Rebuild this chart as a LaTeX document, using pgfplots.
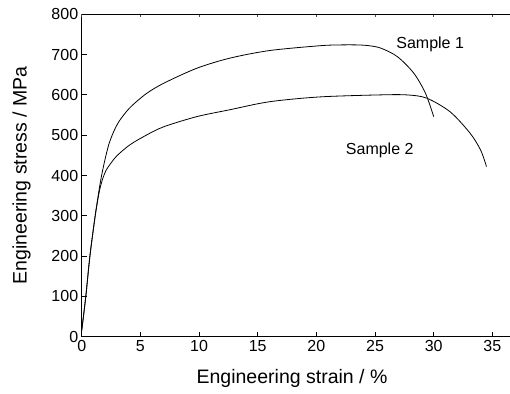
\documentclass[border=0pt]{standalone}
\usepackage{fontspec}
\setmainfont{Liberation Sans}
\usepackage{pgfplots}
\pgfplotsset{compat=1.18}
\begin{document}
\begin{tikzpicture}
\begin{axis}[
  name=ax,
  scale only axis,
  width=440pt, height=322.4pt,
  xmin=0, xmax=37.5, ymin=0, ymax=800,
  xtick={0,5,...,35}, ytick={0,100,...,800},
  tick align=inside,
  xtick pos=left, ytick pos=left,
  major tick length=5pt,
  tick style={black, line width=0.8pt},
  axis line style={line width=0.9pt},
  /pgf/number format/assume math mode=true,
  ticklabel style={font=\fontsize{16}{18}\selectfont},
  label style={font=\fontsize{19.5}{22}\selectfont},
  xlabel={Engineering strain / \%},
  ylabel={Engineering stress / MPa},
  x label style={at={(axis description cs:0.478,0)}, anchor=north, yshift=-29pt},
  y label style={yshift=14pt},
  clip=false,
]
\addplot[black, line width=0.8pt, smooth, tension=0.5] coordinates {
(0,15) (0.35,100) (0.7,200) (1.15,300) (1.6,385) (1.95,435) (2.3,476) (2.7,507) (3.2,535) (4.1,568) (5.5,603) (7.0,629) (9.8,666) (12.6,691) (16,710) (20.3,722) (22,724) (23.5,724) (24.5,722) (25.5,716) (26.9,695) (28.3,654) (29.3,604) (30.0,546)
};
\addplot[black, line width=0.8pt, smooth, tension=0.5] coordinates {
(0,15) (0.35,100) (0.7,200) (1.15,300) (1.5,360) (1.8,393) (2.1,414) (2.5,431) (3.0,449) (4.1,476) (5.5,500) (7.0,521) (9.8,546) (12.6,563) (16,583) (20.3,595) (25.4,600) (27.7,600) (29.4,592) (31.4,558) (33.1,505) (34.0,463) (34.5,422)
};
\node[font=\fontsize{16}{18}\selectfont] at (axis cs:29.7,726) {Sample 1};
\node[font=\fontsize{16}{18}\selectfont] at (axis cs:25.4,463) {Sample 2};
\end{axis}
\begin{axis}[
  scale only axis,
  width=440pt, height=322.4pt,
  xmin=0, xmax=37.5, ymin=0, ymax=800,
  axis x line*=top, axis y line=none,
  xtick={0,5,...,35}, xticklabels={},
  tick align=inside,
  major tick length=2.5pt,
  tick style={black!70, line width=0.6pt},
  axis line style={line width=0.9pt},
]
\end{axis}
\pgfresetboundingbox
\path[use as bounding box] ([xshift=-81.7pt,yshift=-56.3pt]ax.south west) rectangle ([xshift=428.3pt,yshift=14.3pt]ax.north west);
\end{tikzpicture}
\end{document}
